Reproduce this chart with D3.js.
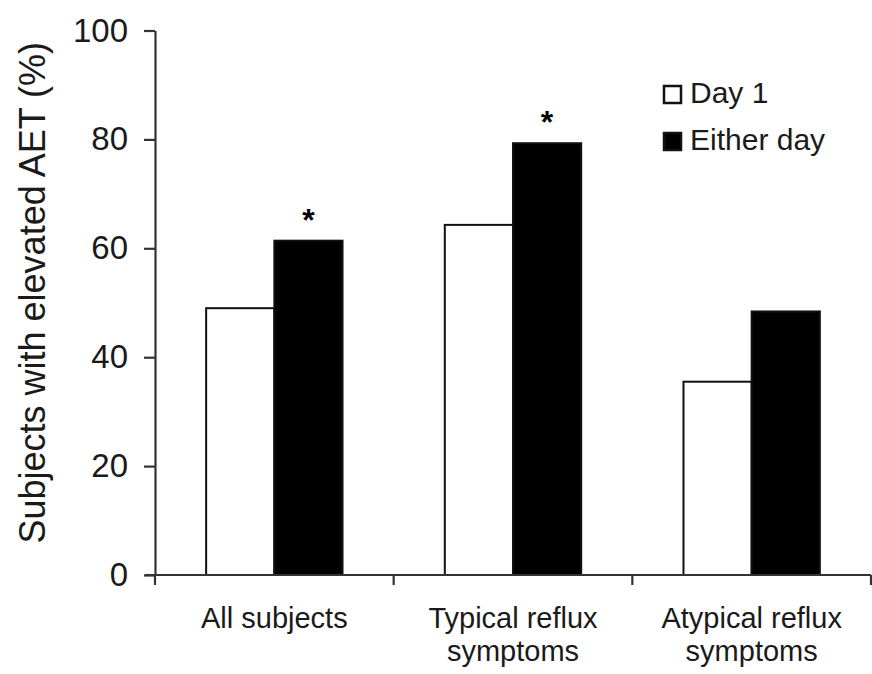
<!DOCTYPE html>
<html>
<head>
<meta charset="utf-8">
<script src="https://cdn.jsdelivr.net/npm/d3@7"></script>
<style>
  html, body { margin: 0; padding: 0; background: #fff; }
  svg { display: block; font-family: "Liberation Sans", Arial, sans-serif; }
</style>
</head>
<body>
<div id="chart"></div>
<script>
const categories = ["All subjects", "Typical reflux\nsymptoms", "Atypical reflux\nsymptoms"];
const series = ["Day 1", "Either day"];
const day1 = [49, 64.3, 35.5];
const eitherDay = [61.4, 79.3, 48.4];
const significant = [true, true, false];
const yTicks = [0, 20, 40, 60, 80, 100];

const W = 872, H = 674;
const margin = { top: 30.5, right: 1, bottom: 99, left: 155 };
const width = W - margin.left - margin.right;
const height = H - margin.top - margin.bottom;

const svg = d3.select("#chart")
    .append("svg")
    .attr("width", W)
    .attr("height", H);

const g = svg.append("g")
    .attr("transform", `translate(${margin.left},${margin.top})`);

const x0 = d3.scaleBand()
    .domain(categories)
    .range([0, width])
    .padding(0);

const x1 = d3.scaleBand()
    .domain(series)
    .range([0, x0.bandwidth()])
    .paddingInner(0)
    .paddingOuter(0.75);

const y = d3.scaleLinear()
    .domain([0, 100])
    .range([height, 0]);

const rows = categories.map((c, i) => ({
    cat: c,
    values: [
        { key: series[0], value: day1[i] },
        { key: series[1], value: eitherDay[i] }
    ],
    sig: significant[i]
}));

const fill = d3.scaleOrdinal().domain(series).range(["#fff", "#000"]);

// bars
const groups = g.selectAll(".grp")
    .data(rows)
    .enter()
    .append("g")
    .attr("transform", d => `translate(${x0(d.cat)},0)`);

groups.selectAll("rect")
    .data(d => d.values)
    .enter()
    .append("rect")
    .attr("x", d => x1(d.key))
    .attr("y", d => y(d.value))
    .attr("width", x1.bandwidth())
    .attr("height", d => height - y(d.value))
    .attr("fill", d => fill(d.key))
    .attr("stroke", "#111")
    .attr("stroke-width", 2);

// asterisks
groups.filter(d => d.sig)
    .append("text")
    .attr("x", x1(series[1]) + x1.bandwidth() / 2)
    .attr("y", d => y(d.values[1].value) - 10)
    .attr("text-anchor", "middle")
    .attr("font-size", 32)
    .attr("font-weight", "bold")
    .attr("fill", "#000")
    .text("*");

// y axis
const yAxis = g.append("g")
    .call(d3.axisLeft(y).tickValues(yTicks).tickSize(11).tickPadding(16).tickSizeOuter(0));
yAxis.select(".domain").attr("stroke", "#333").attr("stroke-width", 2.2);
yAxis.selectAll(".tick line").attr("stroke", "#333").attr("stroke-width", 2.2);
yAxis.selectAll(".tick text")
    .attr("font-size", 33)
    .attr("fill", "#1a1a1a")
    .attr("font-family", "Liberation Sans, Arial, sans-serif");

// x axis
const xAxis = g.append("g")
    .attr("transform", `translate(0,${height})`);
xAxis.append("line")
    .attr("x1", -10)
    .attr("x2", width)
    .attr("stroke", "#333")
    .attr("stroke-width", 2.2);
xAxis.selectAll(".xt")
    .data(categories.map(c => x0(c)).concat([x0.range()[1]]))
    .enter()
    .append("line")
    .attr("x1", d => d)
    .attr("x2", d => d)
    .attr("y1", 0)
    .attr("y2", 10)
    .attr("stroke", "#333")
    .attr("stroke-width", 2.2);

const catLabels = xAxis.selectAll(".cl")
    .data(categories)
    .enter()
    .append("text")
    .attr("text-anchor", "middle")
    .attr("font-size", 29)
    .attr("fill", "#1a1a1a")
    .attr("transform", d => `translate(${x0(d) + x0.bandwidth() / 2},53)`);
catLabels.selectAll("tspan")
    .data(d => d.split("\n"))
    .enter()
    .append("tspan")
    .attr("x", 0)
    .attr("dy", (d, i) => i === 0 ? 0 : 33)
    .text(d => d);

// y label
svg.append("text")
    .attr("transform", `translate(45,${margin.top + height / 2 - 10}) rotate(-90)`)
    .attr("text-anchor", "middle")
    .attr("font-size", 36)
    .attr("fill", "#1a1a1a")
    .text("Subjects with elevated AET (%)");

// legend
const legend = svg.append("g")
    .attr("transform", "translate(663,85)");
const li = legend.selectAll(".li")
    .data(series)
    .enter()
    .append("g")
    .attr("transform", (d, i) => `translate(0,${i * 47})`);
li.append("rect")
    .attr("x", 1)
    .attr("y", 1)
    .attr("width", 17)
    .attr("height", 17)
    .attr("fill", d => fill(d))
    .attr("stroke", "#111")
    .attr("stroke-width", 2.5);
li.append("text")
    .attr("x", 27)
    .attr("y", 18)
    .attr("font-size", 30)
    .attr("fill", "#1a1a1a")
    .text(d => d);
</script>
</body>
</html>
